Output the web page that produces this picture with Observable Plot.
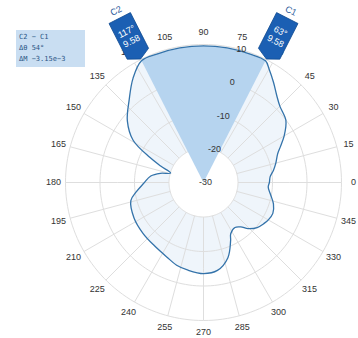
<!DOCTYPE html>
<html><head><meta charset="utf-8">
<script src="https://cdn.jsdelivr.net/npm/d3@7"></script>
<script src="https://cdn.jsdelivr.net/npm/@observablehq/plot@0.6"></script>
<style>
body{margin:0;background:#fff;font-family:"Liberation Sans",Arial,sans-serif}
#wrap{position:relative;width:358px;height:338px}
#box{position:absolute;left:16px;top:30px;width:63px;height:33px;padding:2px 3px;background:#c9def2;font:7px/11px "DejaVu Sans Mono",monospace;color:#2a5585;white-space:pre}
</style></head><body>
<div id="wrap"><div id="chart"></div><div id="box"></div></div>
<script>
// Pattern (angle in degrees, magnitude in dB)
const angles = [0,5,10,15,21,25,30,37,45,50,55,60,63,70,80,90,100,110,117,124,132,141,149,155,159,164,168,173,181,188,194,207,220,232,244,252,260,270,279,288,295,298,305,310,314,320,326,330,336,343,350,356];
const gains  = [-10.9,-10.6,-9.4,-8.3,-7.0,-5.4,-3.0,-0.1,1.3,3.0,5.4,8.0,9.58,9.6,9.6,9.62,9.6,9.6,9.58,6.5,2.2,-1.6,-6.2,-12.9,-16.7,-20.1,-17.2,-14.6,-12.6,-10.3,-8.3,-7.4,-7.1,-6.8,-5.9,-4.8,-4.2,-3.6,-4.2,-7.1,-11.4,-13.2,-14.1,-13.2,-11.4,-9.7,-8.8,-8.3,-8.0,-8.8,-10.3,-11.2];
// Axes
const rMin = -30, rMax = 10;
const ringValues = [-20, -10, 0, 10];
const radialTicks = [-30, -20, -10, 0, 10];
const angleTicks = [0,15,30,45,60,75,90,105,120,135,150,165,180,195,210,225,240,255,270,285,300,315,330,345];
// Cursors
const cursorNames = ["C1", "C2"];
const cursorAngles = [63, 117];
const cursorGains = [9.58, 9.58];
const spanLines = ["C2 \u2212 C1", "\u0394\u03b8 54\u00b0", "\u0394M \u22123.15e\u22123"];

const lat = (g) => 90 - (g - rMin);
const pattern = angles.map((a, i) => ({a, g: gains[i]}));
const i1 = angles.indexOf(cursorAngles[0]), i2 = angles.indexOf(cursorAngles[1]);
const wedge = [{a: cursorAngles[0], g: rMin}, ...pattern.slice(i1, i2 + 1), {a: cursorAngles[1], g: rMin}];

function tagSymbol(rot) {
  const w = 12, t = 6, L = 40, off = 2;
  const pts = [[0,-off],[-w,-off-t],[-w,-off-t-L],[w,-off-t-L],[w,-off-t]];
  const c = Math.cos(rot*Math.PI/180), s = Math.sin(rot*Math.PI/180);
  return {draw(ctx) {
    pts.forEach(([x,y],k) => { const X = x*c - y*s, Y = x*s + y*c; k ? ctx.lineTo(X,Y) : ctx.moveTo(X,Y); });
    ctx.closePath();
  }};
}

const marks = [
  Plot.line(pattern, {x: "a", y: d => lat(d.g), curve: "catmull-rom-closed", fill: "#dbe9f7", fillOpacity: 0.45, stroke: "none"}),
  Plot.geo([d3.geoCircle().center([0,90]).radius(ringValues[0] - rMin)()], {fill: "#fff", stroke: "none"}),
  Plot.geo(ringValues.map(v => d3.geoCircle().center([0,90]).radius(v - rMin)()), {stroke: "#dedede", strokeWidth: 1, fill: "none"}),
  Plot.link(angleTicks, {x1: d => d, y1: lat(ringValues[0]), x2: d => d, y2: lat(rMax), stroke: "#dedede", strokeWidth: 1}),
  Plot.line(wedge, {x: "a", y: d => lat(d.g), curve: "linear-closed", fill: "#b6d4ef", stroke: "none"}),
  Plot.line(pattern, {x: "a", y: d => lat(d.g), curve: "catmull-rom-closed", fill: "none", stroke: "#3473aa", strokeWidth: 1.3}),
  Plot.text(angleTicks, {x: d => d, y: () => lat(rMax + 3.5), text: d => String(d), fontSize: 9, fill: "#333"}),
  Plot.text(radialTicks, {x: () => 75, y: d => lat(d), text: d => String(d), fontSize: 9, fill: "#333", dx: 2})
];
cursorAngles.forEach((a, i) => {
  const rot = 90 - a;
  const rad = a * Math.PI / 180;
  const d1 = 28, d2 = 56;
  marks.push(
    Plot.dot([i], {x: () => a, y: () => lat(cursorGains[i]), symbol: tagSymbol(rot), fill: "#1b5fb3", stroke: "#0f4a91", strokeWidth: 0.8}),
    Plot.text([i], {x: () => a, y: () => lat(cursorGains[i]), text: () => `${a}\u00b0\n${cursorGains[i].toFixed(2)}`, rotate: rot, fill: "#fff", fontSize: 9, lineHeight: 1.2, dx: d1*Math.cos(rad), dy: -d1*Math.sin(rad)}),
    Plot.text([i], {x: () => a, y: () => lat(cursorGains[i]), text: () => cursorNames[i], rotate: rot, fill: "#2a5b9a", fontSize: 9, dx: d2*Math.cos(rad), dy: -d2*Math.sin(rad)})
  );
});

const chart = Plot.plot({
  width: 358, height: 338,
  marginLeft: 48, marginRight: 0, marginTop: 27, marginBottom: 1,
  projection: {type: "azimuthal-equidistant", rotate: [90, -90], domain: d3.geoCircle().center([0, 90]).radius(44.93)(), clip: false},
  style: {fontFamily: "'Liberation Sans', Arial, sans-serif", background: "#fff"},
  marks
});
document.getElementById("chart").append(chart);
document.getElementById("box").textContent = spanLines.join("\n");
</script>
</body></html>
